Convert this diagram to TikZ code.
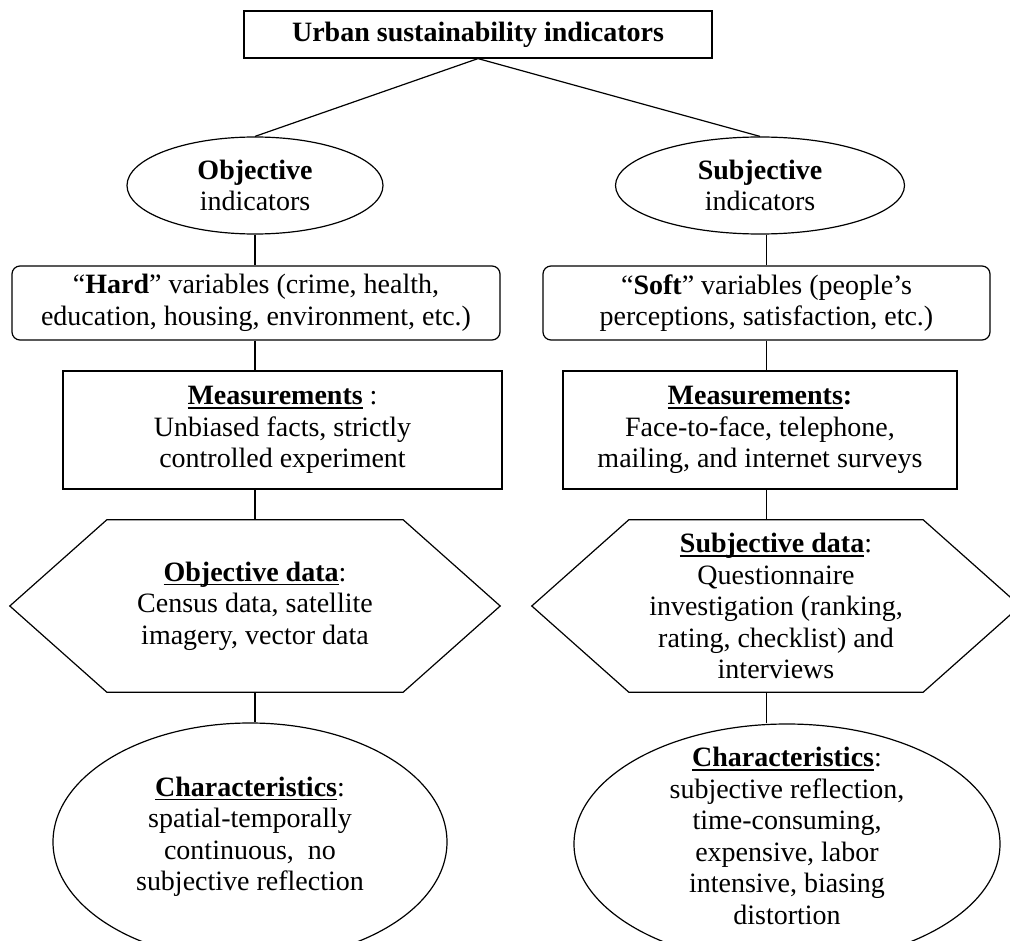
\documentclass[tikz,border=0pt]{standalone}
\usepackage{fontspec}
\setmainfont{Liberation Serif}
\usepackage{tikz}
\usetikzlibrary{shapes.geometric}
\newcommand{\uln}[1]{\setbox0\hbox{#1}\leavevmode\rlap{\rule[-4pt]{\wd0}{1.5pt}}\box0}

\begin{document}
\begin{tikzpicture}[x=1pt, y=-1pt,
                    every node/.style={font=\fontsize{28}{31.5}\selectfont,
                    align=center, inner sep=0pt},
                    box/.style={rectangle, draw=black, line width=1.2pt},
                    rbox/.style={box, rounded corners=8pt},
                    oval/.style={ellipse, draw=black, line width=1.2pt},
                    link/.style={line width=1.2pt},
                ]
                \useasboundingbox (0,0) rectangle (1010,941);
                \clip (0,0) rectangle (1010,941);

                \node[box, minimum width=468pt, minimum height=47pt] (title) at (478,34.5)
                {\textbf{Urban sustainability indicators}};

                % objective side
                \node[oval, minimum width=256pt, minimum height=97pt] (obj_ind) at (255,185.5)
                {\textbf{Objective}\\indicators};
                \node[rbox, minimum width=488pt, minimum height=74pt] (hard_var) at (256,303)
                {``\textbf{Hard}'' variables (crime, health,\\education, housing, environment, etc.)};
                \node[box, minimum width=439pt, minimum height=118pt] (meas_obj) at (282.5,430)
                {\uln{\textbf{Measurements}}\ :\\Unbiased facts, strictly\\controlled experiment};
                \node[minimum width=490pt, minimum height=172pt] (data_obj) at (255,606)
                {\uln{\textbf{Objective data}}:\\Census data, satellite\\imagery, vector data};
                \node[oval, minimum width=394pt, minimum height=238pt] (char_obj) at (250,842) {};
                \node (char_obj_txt) at ([yshift=5pt]char_obj)
                {\uln{\textbf{Characteristics}}:\\spatial-temporally\\continuous,~ no\\subjective reflection};

                % subjective side
                \node[oval, minimum width=289pt, minimum height=97pt] (subj_ind) at (760,185.5)
                {\textbf{Subjective}\\indicators};
                \node[rbox, minimum width=447pt, minimum height=74pt] (soft_var) at (766.5,303)
                {``\textbf{Soft}'' variables (people's\\perceptions, satisfaction, etc.)};
                \node[box, minimum width=394pt, minimum height=118pt] (meas_subj) at (760,430)
                {\uln{\textbf{Measurements}}\textbf{:}\\Face-to-face, telephone,\\mailing, and internet surveys};
                \node[minimum width=488pt, minimum height=172pt] (data_subj) at (776,606)
                {\uln{\textbf{Subjective data}}:\\Questionnaire\\investigation (ranking,\\rating, checklist) and\\interviews};
                \node[oval, minimum width=426pt, minimum height=240pt] (char_subj) at (787,844) {};
                \node (char_subj_txt) at ([yshift=8pt]char_subj)
                {\uln{\textbf{Characteristics}}:\\subjective reflection,\\time-consuming,\\expensive, labor\\intensive, biasing\\distortion};

                % hexagon outlines
                \foreach \h in {data_obj, data_subj} {
                    \draw[link] (\h.west) -- ([xshift=97pt]\h.north west)
                        -- ([xshift=-97pt]\h.north east) -- (\h.east)
                        -- ([xshift=-97pt]\h.south east) -- ([xshift=97pt]\h.south west) -- cycle;
                }

                \draw[link] (title.south) -- (obj_ind.north);
                \draw[link] (title.south) -- (subj_ind.north);

                \draw[link] (obj_ind.south) -- (obj_ind.south |- hard_var.north);
                \draw[link] (obj_ind.south |- hard_var.south) -- (obj_ind.south |- meas_obj.north);
                \draw[link] (data_obj.north |- meas_obj.south) -- (data_obj.north);
                \draw[link] (data_obj.south) -- (data_obj.south |- char_obj.north);

                \draw[link] (soft_var.north |- subj_ind.south) -- (soft_var.north);
                \draw[link] (soft_var.south) -- (soft_var.south |- meas_subj.north);
                \draw[link] (soft_var.south |- meas_subj.south) -- (soft_var.south |- data_subj.north);
                \draw[link] (soft_var.south |- data_subj.south) -- (soft_var.south |- char_subj.north);
            \end{tikzpicture}
\end{document}
